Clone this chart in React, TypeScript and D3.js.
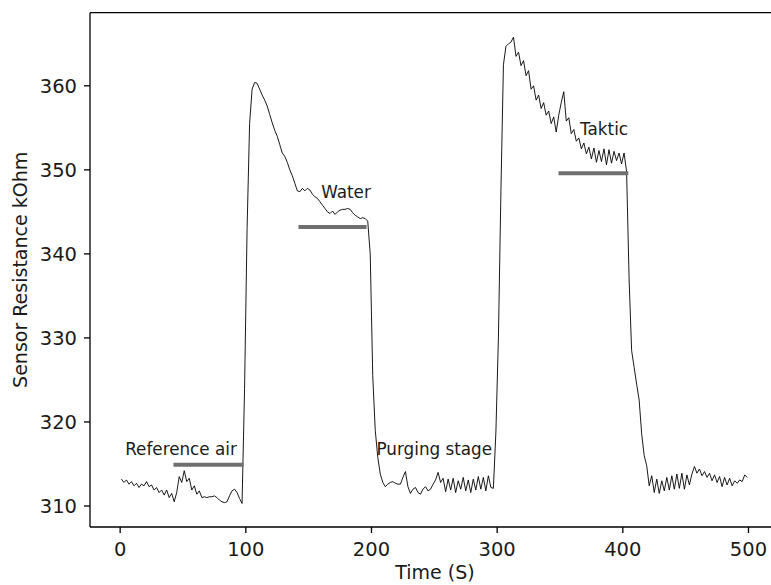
import React from "react";
import * as d3 from "d3";

// Sensor resistance (kOhm), sampled every 2 s starting at t = 1 s
const resistance: number[] = [
  313.2, 312.8, 313.1, 312.6, 312.9, 312.4, 312.7, 312.2, 312.6, 312.4,
  312.9, 312.3, 312.5, 311.9, 312.2, 311.6, 311.9, 311.3, 311.9, 311.0,
  311.5, 310.5, 311.6, 313.5, 312.8, 314.2, 312.9, 313.3, 311.9, 312.4,
  311.4, 311.8, 311.0, 311.1, 311.0, 311.1, 311.1, 311.2, 311.0, 310.7,
  310.5, 310.4, 310.5, 311.2, 311.8, 312.0, 311.6, 310.9, 310.3,
  324.0, 343.0, 355.5, 359.6, 360.4, 360.3, 359.6, 358.9, 358.3, 357.6,
  356.6, 355.6, 354.7, 354.0, 353.0, 352.0, 351.6, 350.9, 350.0, 349.3,
  348.4, 347.5, 347.4, 347.8, 347.5, 347.8, 347.6, 347.1, 346.8, 346.6,
  346.2, 345.8, 345.4, 345.0, 344.8, 345.1, 344.7, 345.0, 345.2, 345.3,
  345.3, 345.4, 345.3, 344.9, 344.6, 344.4, 344.2, 344.3, 344.2, 343.9,
  340.0, 325.5, 319.0, 315.8, 313.8, 312.8, 312.3, 312.6, 312.8, 312.9,
  312.7, 312.6, 312.6, 313.4, 314.1, 312.3, 311.5, 312.0, 312.2, 311.6,
  311.4, 312.0, 312.3, 311.8, 312.0, 312.6, 313.1, 314.0, 312.8, 313.3,
  311.7, 313.2, 311.9, 313.3, 311.6, 313.0, 312.0, 313.4, 311.8, 313.1,
  311.6, 313.2, 311.9, 313.5, 312.0, 313.4, 311.8, 313.6, 312.2, 312.1,
  318.8, 330.0, 347.5, 362.5, 364.7, 365.0, 365.2, 365.8, 363.5, 364.0,
  362.4, 363.0, 361.2, 361.8, 359.6, 360.0, 358.3, 358.9, 357.3, 358.0,
  356.5, 357.0, 355.5, 356.3, 354.5, 356.5, 358.0, 359.3, 355.8, 356.2,
  354.3, 354.8, 353.4, 353.8, 352.5, 353.2, 351.9, 352.7, 351.3, 352.6,
  350.9, 352.3, 351.0, 352.5, 350.6, 352.4, 350.8, 352.2, 351.1, 352.0,
  350.7, 352.0, 349.8, 337.0, 328.5, 326.5, 324.5, 322.6, 318.6, 316.0,
  314.8, 312.4, 313.6, 311.6, 313.2, 311.5, 313.0, 311.8, 313.4, 311.9,
  313.6, 312.0, 313.8, 312.1, 313.9, 312.0, 313.7, 312.5, 313.8, 314.7,
  313.9, 314.4, 313.6, 314.1, 313.4, 313.9, 313.0, 313.7, 312.8, 313.5,
  312.3, 313.4, 312.5, 313.3, 312.4, 313.0, 312.7, 313.1, 312.9, 313.7,
  313.4,
];
const times: number[] = resistance.map((_, i) => 1 + 2 * i);

const xTicks: number[] = [0, 100, 200, 300, 400, 500];
const yTicks: number[] = [310, 320, 330, 340, 350, 360];

// Stage annotations
const labelTexts: string[] = ["Reference air", "Water", "Purging stage", "Taktic"];
const labelX: number[] = [4, 160, 204, 366];
const labelY: number[] = [316.1, 346.6, 316.1, 354.2];

const barLevel: number[] = [314.9, 343.2, 349.6];
const barStart: number[] = [42.4, 141.9, 348.8];
const barEnd: number[] = [98.1, 196.1, 404.4];

const W = 771;
const H = 585;
const FONT = "DejaVu Sans, sans-serif";

export default function App() {
  const x = d3.scaleLinear().domain([-24, 525]).range([90, 779.9]);
  const y = d3.scaleLinear().domain([307.5, 368.7]).range([527, 12.7]);
  const line = d3
    .line<number>()
    .x((_, i) => x(times[i]))
    .y((d) => y(d));

  const [x0, x1] = x.range();
  const [yb, yt] = y.range();

  return (
    <div style={{ position: "absolute", left: 0, top: 0, width: W, height: H, overflow: "hidden" }}>
      <svg width={W} height={H} style={{ display: "block", background: "#fff" }} fontFamily={FONT}>
        <rect x={0} y={0} width={W} height={H} fill="#fff" />
        {/* data line */}
        <path d={line(resistance) || ""} fill="none" stroke="#000" strokeWidth={0.9} strokeLinejoin="round" />
        {/* stage bars */}
        {barLevel.map((lv, i) => (
          <line
            key={"b" + i}
            x1={x(barStart[i])}
            x2={x(barEnd[i])}
            y1={y(lv)}
            y2={y(lv)}
            stroke="#6f6f6f"
            strokeWidth={4}
          />
        ))}
        {/* annotations */}
        {labelTexts.map((t, i) => (
          <text key={"l" + i} x={x(labelX[i])} y={y(labelY[i])} fontSize={16.8} fill="#1a1a1a">
            {t}
          </text>
        ))}
        {/* frame (right spine lies outside the canvas) */}
        <line x1={x0} x2={x0} y1={yt} y2={yb} stroke="#000" strokeWidth={1.3} />
        <line x1={x0} x2={x1} y1={yb} y2={yb} stroke="#000" strokeWidth={1.3} />
        <line x1={x0} x2={x1} y1={yt} y2={yt} stroke="#000" strokeWidth={1.3} />
        {/* x ticks */}
        {xTicks.map((t) => (
          <g key={"xt" + t}>
            <line x1={x(t)} x2={x(t)} y1={yb} y2={yb + 6} stroke="#000" strokeWidth={1.3} />
            <text x={x(t)} y={555.5} fontSize={19.5} textAnchor="middle" fill="#1a1a1a">
              {t}
            </text>
          </g>
        ))}
        {/* y ticks */}
        {yTicks.map((t) => (
          <g key={"yt" + t}>
            <line x1={x0 - 6} x2={x0} y1={y(t)} y2={y(t)} stroke="#000" strokeWidth={1.3} />
            <text x={77} y={y(t)} dy="0.36em" fontSize={19.5} textAnchor="end" fill="#1a1a1a">
              {t}
            </text>
          </g>
        ))}
        <text x={(x0 + x1) / 2} y={579} fontSize={19} textAnchor="middle" fill="#1a1a1a">
          Time (S)
        </text>
        <text
          transform={`translate(27, ${(yt + yb) / 2}) rotate(-90)`}
          fontSize={19}
          textAnchor="middle"
          fill="#1a1a1a"
        >
          Sensor Resistance kOhm
        </text>
      </svg>
    </div>
  );
}
